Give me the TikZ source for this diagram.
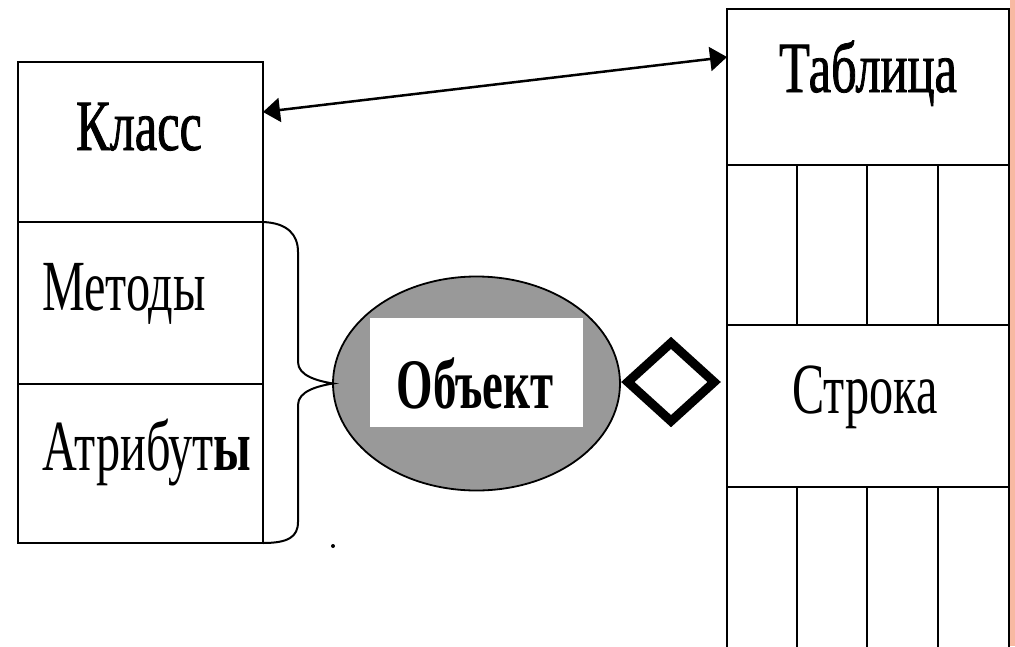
\documentclass[tikz,border=0pt]{standalone}
\usepackage{fontspec}
\setmainfont{Liberation Serif}
\newfontfamily\labfont[FakeStretch=0.67]{Liberation Serif}
\newfontfamily\medfont[FakeStretch=0.7,FakeBold=1.1]{Liberation Serif}
\newfontfamily\objfont[FakeStretch=0.66]{Liberation Serif Bold}
\usetikzlibrary{arrows.meta,calc,shapes.geometric}
\definecolor{edgeorange}{HTML}{F8B9A2}
\definecolor{objgray}{HTML}{999999}
\begin{document}
\begin{tikzpicture}[x=1pt,y=-1pt,
  box/.style={draw, line width=2.2pt, rectangle, inner sep=0pt, outer sep=0pt, anchor=north west},
  lbl/.style={font=\labfont\fontsize{72}{80}\selectfont, inner sep=0pt, outer sep=0pt},
  blbl/.style={font=\medfont\fontsize{72}{80}\selectfont, inner sep=0pt, outer sep=0pt},
  olbl/.style={font=\objfont\fontsize{71}{80}\selectfont, inner sep=0pt, outer sep=0pt},
  >={Triangle[length=17pt,width=24pt]}]
\path[use as bounding box] (0,0) rectangle (1015,646);
\fill[white] (0,0) rectangle (1015,646);
\begin{scope}
\clip (0,0) rectangle (1015,646);
% class box
\node[box, minimum width=245pt, minimum height=160pt] (klass) at (18,62) {};
\node[box, minimum width=245pt, minimum height=162pt] (metody) at (18,222) {};
\node[box, minimum width=245pt, minimum height=159pt] (atrib) at (18,384) {};
% table
\node[box, minimum width=282pt, minimum height=156pt] (tabl) at (727,9) {};
\node[box, minimum width=70pt, minimum height=160pt] (ca1) at (727,165) {};
\node[box, minimum width=70pt, minimum height=160pt] (ca2) at (797,165) {};
\node[box, minimum width=71pt, minimum height=160pt] (ca3) at (867,165) {};
\node[box, minimum width=71pt, minimum height=160pt] (ca4) at (938,165) {};
\node[box, minimum width=282pt, minimum height=162pt] (stroka) at (727,325) {};
\node[box, minimum width=70pt, minimum height=170pt] (cb1) at (727,487) {};
\node[box, minimum width=70pt, minimum height=170pt] (cb2) at (797,487) {};
\node[box, minimum width=71pt, minimum height=170pt] (cb3) at (867,487) {};
\node[box, minimum width=71pt, minimum height=170pt] (cb4) at (938,487) {};
% object
\node[ellipse, draw, line width=1.8pt, fill=objgray, minimum width=287pt, minimum height=214pt, inner sep=0pt, outer sep=0pt] (obj) at (476.5,383.5) {};
\node[rectangle, fill=white, minimum width=213pt, minimum height=109pt, inner sep=0pt] (objbox) at (476.5,372.5) {};
% aggregation diamond
\node[diamond, draw, line width=9pt, minimum width=90pt, minimum height=82pt, inner sep=0pt] (agg) at (671,382) {};
% labels
\node[blbl, anchor=base] (tklass) at (139,150) {Класс};
\node[lbl, anchor=base west] (tmetody) at (42,310) {Методы};
\node[lbl, anchor=base west] (tatrib) at (42,470) {Атрибут\textbf{ы}};
\node[blbl, anchor=base] (ttabl) at (868,92) {Таблица};
\node[lbl, anchor=base] (tstroka) at (865,413) {Строка};
\node[olbl, anchor=base] (tobj) at (475,408) {Объект};
% association arrow
\draw[<->, line width=2.5pt]
  ($(klass.north east)!0.3125!(klass.south east)$) -- ($(tabl.north west)!0.3077!(tabl.south west)$);
% brace
\draw[line width=2pt]
  (klass.south east) .. controls (288,223) and (298,235) .. (298,252) -- (298,362)
  .. controls (298,376) and (318,381) .. (obj.west)
  .. controls (318,386) and (298,391) .. (298,405) -- (298,522)
  .. controls (298,537) and (288,543) .. (atrib.south east);
\fill (333,546) circle (2pt);
\end{scope}
\fill[edgeorange] (1010,0) rectangle (1015,646);
\end{tikzpicture}
\end{document}
